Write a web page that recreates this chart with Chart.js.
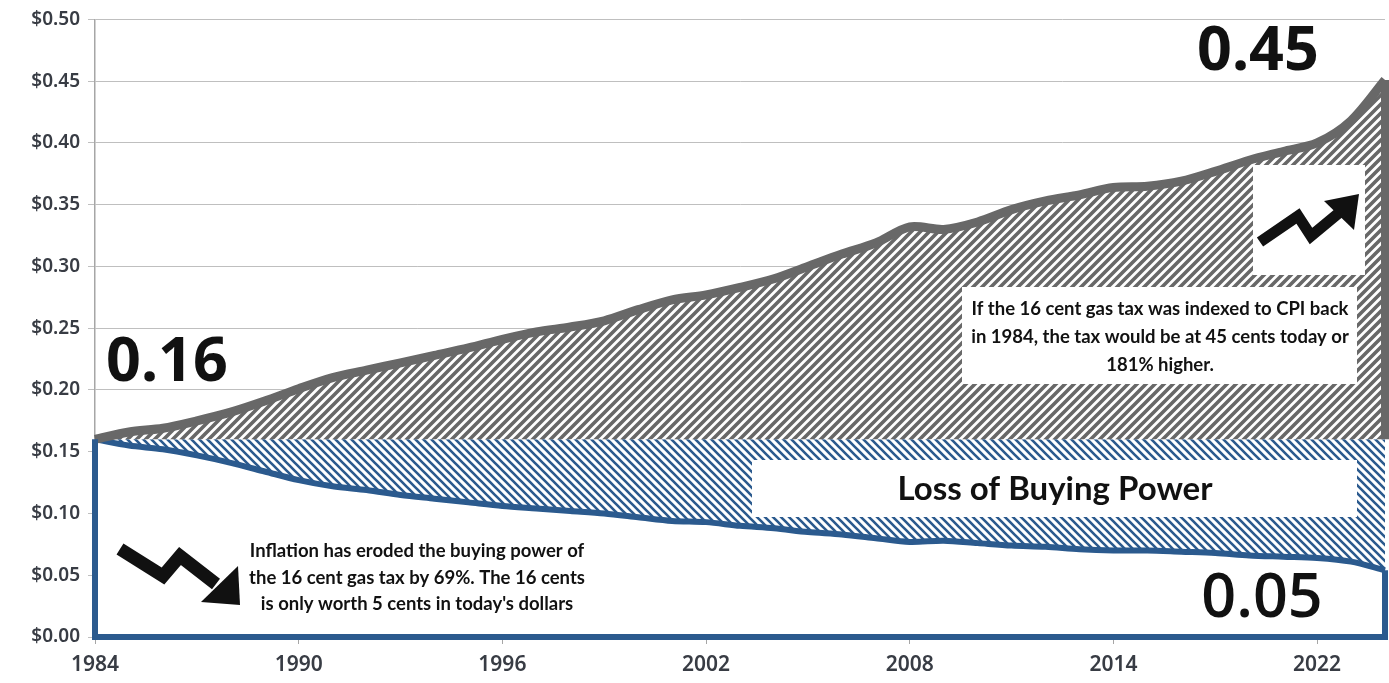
<!DOCTYPE html>
<html>
<head>
<meta charset="utf-8">
<script src="https://cdn.jsdelivr.net/npm/chart.js@4.4.1/dist/chart.umd.min.js"></script>
<style>
  html, body { margin: 0; padding: 0; background: #ffffff; }
  #wrap { width: 1389px; height: 683px; }
</style>
</head>
<body>
<div id="wrap"><canvas id="c" width="1389" height="683"></canvas></div>
<script>
// Federal gas tax: 16 cents set in 1984, compared with its CPI-indexed value
// and with its buying power in constant dollars.
const years = [1984, 1985, 1986, 1987, 1988, 1989, 1990, 1991, 1992, 1993,
               1994, 1995, 1996, 1997, 1998, 1999, 2000, 2001, 2002, 2003,
               2004, 2005, 2006, 2007, 2008, 2009, 2010, 2011, 2012, 2013,
               2014, 2015, 2016, 2017, 2018, 2019, 2020, 2021, 2022];
const tickYears = ['1984', '1990', '1996', '2002', '2008', '2014', '2022'];
const baseTax = 0.16;
const indexedTax = [0.160, 0.166, 0.169, 0.175, 0.182, 0.191, 0.201, 0.210, 0.216, 0.222,
                    0.228, 0.234, 0.241, 0.247, 0.251, 0.256, 0.265, 0.273, 0.277, 0.283,
                    0.290, 0.300, 0.310, 0.319, 0.332, 0.330, 0.336, 0.346, 0.353, 0.358,
                    0.364, 0.365, 0.369, 0.377, 0.386, 0.393, 0.400, 0.418, 0.451];
const buyingPower = [0.160, 0.155, 0.152, 0.147, 0.141, 0.134, 0.127, 0.122, 0.119, 0.115,
                     0.112, 0.109, 0.106, 0.104, 0.102, 0.100, 0.097, 0.094, 0.093, 0.090,
                     0.088, 0.085, 0.083, 0.080, 0.077, 0.078, 0.076, 0.074, 0.073, 0.071,
                     0.070, 0.070, 0.069, 0.068, 0.066, 0.065, 0.064, 0.061, 0.054];

const GRAY = '#686868';
const BLUE = '#2b5a8e';
const INK = '#111111';
const AXIS_TEXT = '#383c44';

// Diagonal hatch tiles (white ground, coloured stripes)
function hatch(color, size, width, rising) {
  const t = document.createElement('canvas');
  t.width = size; t.height = size;
  const g = t.getContext('2d');
  g.fillStyle = '#ffffff';
  g.fillRect(0, 0, size, size);
  g.strokeStyle = color;
  g.lineWidth = width;
  g.beginPath();
  if (rising) {
    g.moveTo(-1, size + 1); g.lineTo(size + 1, -1);
    g.moveTo(-size / 2 - 1, size / 2 + 1); g.lineTo(size / 2 + 1, -size / 2 - 1);
    g.moveTo(size / 2 - 1, size * 1.5 + 1); g.lineTo(size * 1.5 + 1, size / 2 - 1);
  } else {
    g.moveTo(-1, -1); g.lineTo(size + 1, size + 1);
    g.moveTo(-size / 2 - 1, size / 2 - 1); g.lineTo(size / 2 + 1, size * 1.5 + 1);
    g.moveTo(size / 2 - 1, -size / 2 - 1); g.lineTo(size * 1.5 + 1, size / 2 + 1);
  }
  g.stroke();
  return g.createPattern(t, 'repeat');
}
const grayHatch = hatch(GRAY, 9, 3.6, true);
const blueHatch = hatch(BLUE, 8, 2.6, false);

function drawDownArrow(ctx) {
  ctx.save();
  ctx.strokeStyle = INK; ctx.fillStyle = INK;
  ctx.lineWidth = 13; ctx.lineJoin = 'miter'; ctx.lineCap = 'butt';
  ctx.beginPath();
  ctx.moveTo(120, 549);
  ctx.lineTo(163, 576);
  ctx.lineTo(180, 556);
  ctx.lineTo(216, 584);
  ctx.stroke();
  ctx.beginPath();
  ctx.moveTo(238, 566);
  ctx.lineTo(240, 605);
  ctx.lineTo(201, 602);
  ctx.closePath();
  ctx.fill();
  ctx.restore();
}

function drawUpArrow(ctx) {
  ctx.save();
  ctx.strokeStyle = INK; ctx.fillStyle = INK;
  ctx.lineWidth = 11; ctx.lineJoin = 'miter'; ctx.lineCap = 'butt';
  ctx.beginPath();
  ctx.moveTo(1260, 242);
  ctx.lineTo(1298, 216);
  ctx.lineTo(1311, 236);
  ctx.lineTo(1340, 212);
  ctx.stroke();
  ctx.beginPath();
  ctx.moveTo(1359, 194);
  ctx.lineTo(1354, 230);
  ctx.lineTo(1324, 201);
  ctx.closePath();
  ctx.fill();
  ctx.restore();
}

const overlay = {
  id: 'overlay',
  afterDatasetsDraw(chart) {
    const ctx = chart.ctx;
    const xs = chart.scales.x, ys = chart.scales.y;
    const last = years.length - 1;
    const x0 = xs.getPixelForValue(0), x1 = xs.getPixelForValue(last);
    ctx.save();
    // right edge of the indexed-tax area
    ctx.strokeStyle = GRAY; ctx.lineWidth = 8;
    ctx.beginPath();
    ctx.moveTo(x1, ys.getPixelForValue(indexedTax[last]));
    ctx.lineTo(x1, ys.getPixelForValue(baseTax));
    ctx.stroke();
    // outline of the buying-power area
    ctx.strokeStyle = BLUE; ctx.lineWidth = 6; ctx.lineJoin = 'miter';
    ctx.beginPath();
    ctx.moveTo(x0, ys.getPixelForValue(buyingPower[0]));
    ctx.lineTo(x0, ys.getPixelForValue(0));
    ctx.lineTo(x1, ys.getPixelForValue(0));
    ctx.lineTo(x1, ys.getPixelForValue(buyingPower[last]));
    ctx.stroke();

    // white call-out panels
    ctx.fillStyle = '#ffffff';
    ctx.fillRect(1253, 165, 112, 110);
    ctx.fillRect(962, 287, 395, 97);
    ctx.fillRect(752, 460, 605, 57);

    ctx.fillStyle = INK;
    ctx.textAlign = 'center';
    ctx.textBaseline = 'middle';
    ctx.font = 'bold 18.5px Lato';
    ctx.fillText('If the 16 cent gas tax was indexed to CPI back', 1160, 309);
    ctx.fillText('in 1984, the tax would be at 45 cents today or', 1160, 337);
    ctx.fillText('181% higher.', 1160, 365);

    ctx.fillText('Inflation has eroded the buying power of', 417, 551);
    ctx.fillText('the 16 cent gas tax by 69%. The 16 cents', 417, 578);
    ctx.fillText("is only worth 5 cents in today's dollars", 417, 604);

    ctx.font = 'bold 33px Lato';
    ctx.fillText('Loss of Buying Power', 1055, 489);

    ctx.font = 'bold 61px "Noto Sans"';
    ctx.fillText(indexedTax[0].toFixed(2), 167, 364);
    ctx.fillText(indexedTax[last].toFixed(2), 1258, 53);
    ctx.font = '600 61px "Open Sans"';
    ctx.fillText(buyingPower[last].toFixed(2), 1262, 600);

    drawDownArrow(ctx);
    drawUpArrow(ctx);
    ctx.restore();
  }
};

new Chart(document.getElementById('c'), {
  type: 'line',
  data: {
    labels: years,
    datasets: [
      {
        label: 'Tax indexed to CPI',
        data: indexedTax,
        borderColor: GRAY,
        borderWidth: 9,
        backgroundColor: grayHatch,
        fill: { value: baseTax },
        tension: 0.3,
        pointRadius: 0
      },
      {
        label: 'Buying power of 16 cents',
        data: buyingPower,
        borderColor: BLUE,
        borderWidth: 6,
        backgroundColor: blueHatch,
        fill: { value: baseTax },
        tension: 0.3,
        pointRadius: 0
      },
      {
        label: 'Buying power base',
        data: buyingPower,
        borderWidth: 0,
        borderColor: 'rgba(0,0,0,0)',
        backgroundColor: '#ffffff',
        fill: 'origin',
        tension: 0.3,
        pointRadius: 0
      }
    ]
  },
  options: {
    responsive: false,
    animation: false,
    layout: { padding: { top: 18, right: 4, left: 0, bottom: 0 } },
    plugins: { legend: { display: false }, tooltip: { enabled: false } },
    scales: {
      x: {
        type: 'category',
        offset: false,
        afterFit(s) { s.height = 46; },
        grid: { display: true, drawOnChartArea: false, drawTicks: true, tickLength: 7, color: '#a6a6a6' },
        border: { display: false },
        ticks: {
          autoSkip: false,
          maxRotation: 0,
          padding: 8,
          color: AXIS_TEXT,
          font: { family: '"Noto Sans"', size: 21, weight: '600' },
          callback(value, index) { return index % 6 === 0 ? tickYears[index / 6] : null; }
        }
      },
      y: {
        min: 0,
        max: 0.5,
        afterFit(s) { s.width = 95; },
        grid: { color: '#bfbfbf', lineWidth: 1, tickLength: 7 },
        border: { display: true, color: '#a6a6a6', width: 1.5 },
        ticks: {
          stepSize: 0.05,
          padding: 8,
          color: AXIS_TEXT,
          font: { family: '"Noto Sans"', size: 19, weight: '600' },
          callback(v) { return '$' + Number(v).toFixed(2); }
        }
      }
    }
  },
  plugins: [overlay]
});
</script>
</body>
</html>
